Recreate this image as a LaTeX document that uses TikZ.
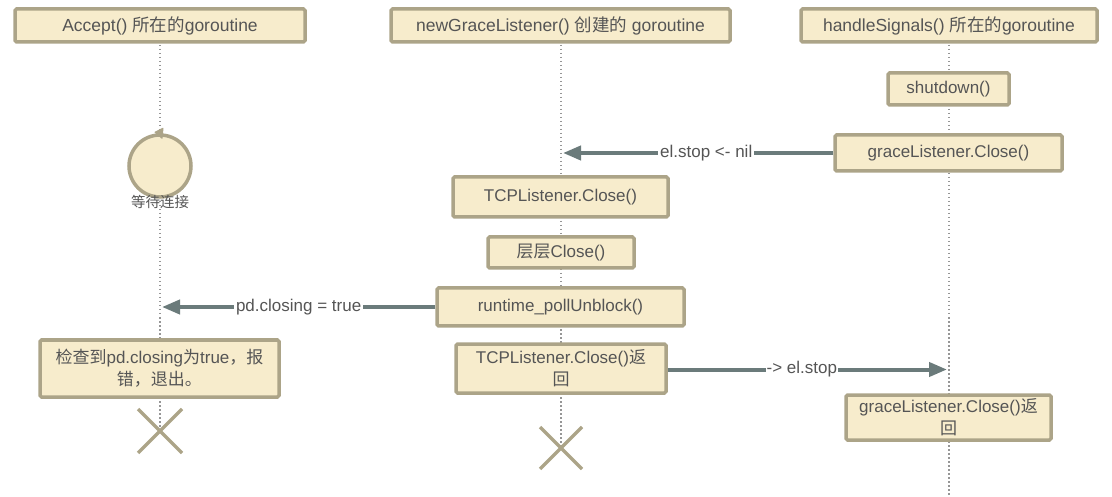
\documentclass[tikz,border=0pt]{standalone}
\usepackage{fontspec}
\setmainfont{Liberation Sans}
\newfontfamily\cjk{Noto Sans CJK SC}
\usetikzlibrary{arrows.meta}
\definecolor{boxfill}{RGB}{247,236,204}
\definecolor{boxline}{RGB}{172,164,136}
\definecolor{msgcol}{RGB}{107,123,123}
\definecolor{txtcol}{RGB}{85,85,85}
\definecolor{lifecol}{RGB}{150,150,150}
\tikzset{
  box/.style={draw=boxline, fill=boxfill, line width=3.5pt, rounded corners=1.5pt,
    text=txtcol, font=\fontsize{17}{22}\selectfont, inner sep=0pt, align=center},
  headbox/.style={box, font=\fontsize{17.5}{20}\selectfont},
  life/.style={draw=lifecol, line width=1.5pt, dash pattern=on 1.5pt off 2.5pt},
  msg/.style={draw=msgcol, line width=4pt, -{Triangle[length=18pt,width=14pt]}},
  msglabel/.style={fill=white, text=txtcol, font=\fontsize{17}{20}\selectfont, inner sep=2pt},
  endx/.style={draw=boxline, line width=3.5pt},
}
\begin{document}
\begin{tikzpicture}[x=1pt,y=-1pt]
\useasboundingbox (0,0) rectangle (1112,497);
% lifelines
\coordinate (t1) at (160,41); \coordinate (b1) at (160,431);
\coordinate (t2) at (561,41); \coordinate (b2) at (561,448);
\coordinate (t3) at (949,41); \coordinate (b3) at (949,497);
\draw[life] (t1) -- (b1);
\draw[life] (t2) -- (b2);
\draw[life] (t3) -- (b3);
% headers
\node[headbox, minimum width=290pt, minimum height=33pt] (h1) at (160,25.5) {Accept() {\cjk 所在的}goroutine};
\node[headbox, minimum width=339pt, minimum height=33pt] (h2) at (560.5,25.5) {newGraceListener() {\cjk 创建的} goroutine};
\node[headbox, minimum width=296pt, minimum height=33pt] (h3) at (949,25.5) {handleSignals() {\cjk 所在的}goroutine};
% waiting circle
\node[circle, draw=boxline, fill=boxfill, line width=3.5pt, minimum size=62pt, inner sep=0pt] (wait) at (160,166) {};
\draw[draw=boxline, fill=boxline, line width=1pt, line join=round] ([xshift=-5pt,yshift=1pt]wait.north) -- ([xshift=2pt,yshift=-5pt]wait.north) -- ([xshift=3pt,yshift=5pt]wait.north) -- cycle;
\node[text=txtcol, font=\fontsize{14.5}{16}\cjk, inner sep=0pt] (waitlbl) at (160,202) {等待连接};
% boxes
\node[box, minimum width=121pt, minimum height=32pt] (sd) at (948.5,89) {shutdown()};
\node[box, minimum width=227pt, minimum height=36pt] (gc) at (948.5,153) {graceListener.Close()};
\node[box, minimum width=215pt, minimum height=40pt] (tc) at (560.5,197) {TCPListener.Close()};
\node[box, minimum width=146pt, minimum height=31pt] (cc) at (561,252.5) {{\cjk 层层}Close()};
\node[box, minimum width=247pt, minimum height=38pt] (pu) at (560.5,307) {runtime\_pollUnblock()};
\node[box, minimum width=239pt, minimum height=57pt] (chk) at (159.5,368.5) {{\cjk 检查到}pd.closing{\cjk 为}true{\cjk ，报}\\{\cjk 错，退出。}};
\node[box, minimum width=210pt, minimum height=49pt] (tcr) at (561,368.5) {TCPListener.Close(){\cjk 返}\\{\cjk 回}};
\node[box, minimum width=205pt, minimum height=45pt] (gcr) at (948.5,417.5) {graceListener.Close(){\cjk 返}\\{\cjk 回}};
% message end points
\coordinate (m1) at (563,153);
\coordinate (m2) at (162,307);
\coordinate (m3) at (947,369.5);
\draw[msg] (gc.west) -- node[msglabel, pos=0.47] (l1) {el.stop <- nil} (m1);
\draw[msg] (pu.west) -- node[msglabel, pos=0.5] (l2) {pd.closing = true} (m2);
\draw[msg] (tcr.east |- m3) -- node[msglabel, pos=0.48, inner sep=1pt] (l3) {-> el.stop} (m3);
% end marks
\draw[endx] (138,409) -- (182,453) (182,409) -- (138,453);
\draw[endx] (540,427) -- (582,469) (582,427) -- (540,469);
\end{tikzpicture}
\end{document}
